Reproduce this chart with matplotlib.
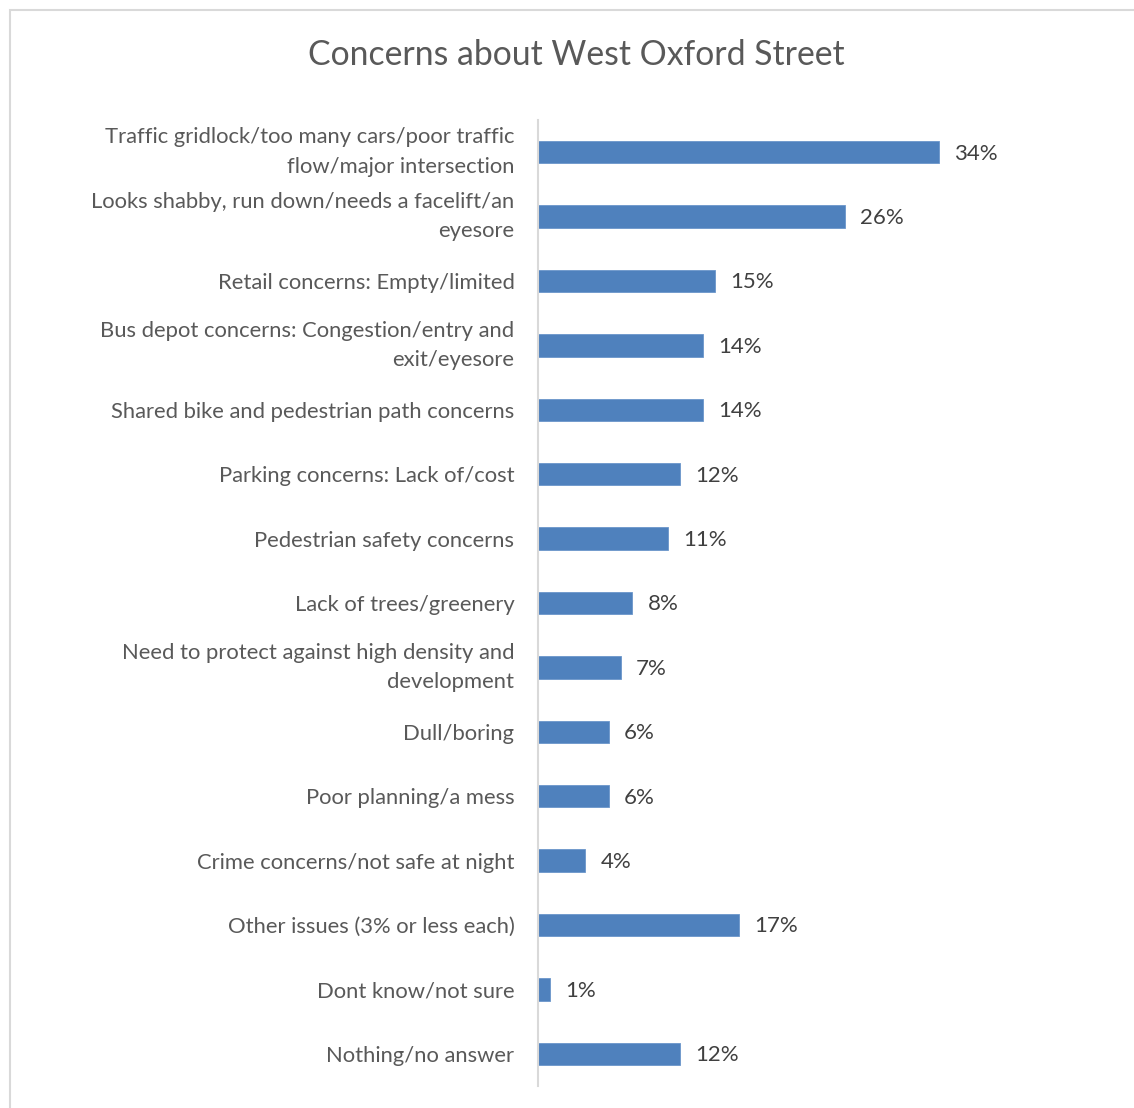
import matplotlib
matplotlib.use("Agg")
import matplotlib.pyplot as plt
from matplotlib.patches import Rectangle

# Survey responses: share of respondents naming each concern (percent)
categories = [
    "Traffic gridlock/too many cars/poor traffic\nflow/major intersection",
    "Looks shabby, run down/needs a facelift/an\neyesore",
    "Retail concerns: Empty/limited",
    "Bus depot concerns: Congestion/entry and\nexit/eyesore",
    "Shared bike and pedestrian path concerns",
    "Parking concerns: Lack of/cost",
    "Pedestrian safety concerns",
    "Lack of trees/greenery",
    "Need to protect against high density and\ndevelopment",
    "Dull/boring",
    "Poor planning/a mess",
    "Crime concerns/not safe at night",
    "Other issues (3% or less each)",
    "Dont know/not sure",
    "Nothing/no answer",
]
values = [34, 26, 15, 14, 14, 12, 11, 8, 7, 6, 6, 4, 17, 1, 12]

W, H = 1134, 1108
fig = plt.figure(figsize=(W / 100, H / 100), dpi=100)
plt.rcParams["font.family"] = ["Lato", "DejaVu Sans"]

# chart frame
fig.patches.append(Rectangle((10 / W, -0.1), 1.2, 1 - 10 / H + 0.1,
                             transform=fig.transFigure, fill=False,
                             edgecolor="#D9D9D9", linewidth=1.5))

ax_left, ax_right = 538, 1010
ax_top, ax_bottom = 120, 1086
ax = fig.add_axes([ax_left / W, 1 - ax_bottom / H,
                   (ax_right - ax_left) / W, (ax_bottom - ax_top) / H])

pos = list(range(len(categories)))
ax.barh(pos, values, height=0.345, color="#4F81BD", edgecolor="#6B96CB",
        linewidth=0.6, zorder=2)
ax.set_xlim(0, 40)
ax.set_ylim(len(categories) - 0.5, -0.5)

for p, v in zip(pos, values):
    ax.annotate(f"{v}%", xy=(v, p), xytext=(11, -1), textcoords="offset points",
                va="center", ha="left", fontsize=16, color="#404040")

ax.set_yticks(pos)
ax.set_yticklabels(categories, fontsize=15.8, color="#595959",
                   linespacing=1.6, ha="right")
# two-line labels are centred on their bar as a block
for lbl in ax.get_yticklabels():
    if "\n" in lbl.get_text():
        lbl.set_verticalalignment("center")
ax.tick_params(axis="y", length=0, pad=17)
ax.set_xticks([])
for s in ["top", "right", "bottom"]:
    ax.spines[s].set_visible(False)
ax.spines["left"].set_color("#D9D9D9")
ax.spines["left"].set_linewidth(1.5)

fig.text(576 / W, 1 - 55 / H, "Concerns about West Oxford Street",
         ha="center", va="center", fontsize=24.3, color="#595959")

fig.savefig("out.png", dpi=100, facecolor="white")
